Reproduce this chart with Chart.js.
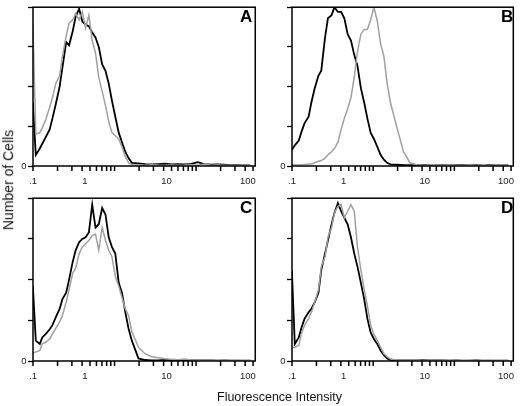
<!DOCTYPE html>
<html>
<head>
<meta charset="utf-8">
<script src="https://cdn.jsdelivr.net/npm/chart.js@4.4.1/dist/chart.umd.min.js"></script>
<style>
  body { margin: 0; background: #fff; width: 520px; height: 406px; position: relative; overflow: hidden; font-family: "Liberation Sans", Arial, sans-serif; }
  canvas { position: absolute; }
  .letter { position: absolute; font-weight: bold; font-size: 17px; line-height: 17px; color: #000; }
  .title { position: absolute; font-size: 12.5px; line-height: 14px; color: #111; white-space: nowrap; }
</style>
</head>
<body>
<canvas id="panelA" width="262" height="192" style="left:0;top:0"></canvas>
<canvas id="panelB" width="261" height="192" style="left:259px;top:0"></canvas>
<canvas id="panelC" width="262" height="196" style="left:0;top:191px"></canvas>
<canvas id="panelD" width="261" height="196" style="left:259px;top:191px"></canvas>

<div class="letter" style="left:240px;top:8px">A</div>
<div class="letter" style="left:501px;top:8px">B</div>
<div class="letter" style="left:240px;top:199px">C</div>
<div class="letter" style="left:501px;top:199px">D</div>

<div class="title" style="left:217px;top:390px">Fluorescence Intensity</div>
<div class="title" style="left:-42px;top:173px;transform:rotate(-90deg);font-size:14px">Number of Cells</div>

<script>
// Fluorescence intensity bins (log scale)
const bins = [0.23, 0.25, 0.28, 0.30, 0.33, 0.37, 0.40, 0.44, 0.49, 0.53,
              0.59, 0.64, 0.71, 0.77, 0.85, 0.93, 1.02, 1.12, 1.23, 1.35,
              1.48, 1.63, 1.79, 1.96, 2.15, 2.36, 2.6, 2.85, 3.13, 3.43,
              3.77, 4.54, 5.46, 6.58, 7.93, 9.55, 11.5, 13.8, 16.7, 20.1,
              24.2, 29.2, 35.1, 42.3, 50.9, 61.4, 73.9, 89, 107];

// Number of cells (% of full scale) per bin
const aBlack = [40, 7, 11, 14, 18, 23, 30, 39, 50, 62,
                78, 76, 85, 94, 99, 91, 89, 88, 84, 81,
                75, 64, 60, 52, 41, 31, 21, 15, 9, 5,
                2, 1.6, 1.2, 1, 1.2, 1.4, 1, 1.2, 1, 1.4,
                2.4, 1.2, 0.8, 1, 0.8, 0.6, 0.6, 0.4, 0.4];
const aGray = [90, 20, 21, 24, 29, 37, 43, 52, 57, 69,
               82, 90, 92, 96, 92, 97, 87, 95, 79, 71,
               56, 47, 38, 28, 21, 19, 17, 12, 6, 2,
               0.8, 0.6, 0.5, 0.8, 0.6, 0.5, 0.7, 0.5, 0.6, 0.8,
               0.5, 1.2, 0.5, 0.6, 0.4, 0.5, 0.3, 0.4, 0.3];

const bBlack = [10, 13, 16, 21, 27, 31, 40, 49, 57, 60,
                81, 93, 95, 100, 97, 97, 93, 83, 79, 70,
                63, 49, 40, 30, 21, 17, 12, 7, 4, 2,
                1, 0.8, 0.6, 0.6, 0.5, 0.7, 0.4, 0.6, 0.5, 0.4,
                0.6, 0.5, 0.4, 0.5, 0.3, 0.6, 0.4, 0.3, 0.3];
const bGray = [1, 0.8, 0.6, 0.8, 1, 1.2, 1.2, 2, 3, 3.4,
               5, 7, 9, 11, 15, 23, 30, 36, 43, 56,
               72, 83, 86, 86, 92, 100, 91, 77, 69, 52,
               40, 24, 9, 2, 0.8, 0.6, 0.5, 0.6, 0.4, 0.5,
               0.4, 0.3, 0.5, 0.3, 0.4, 0.3, 0.3, 0.3, 0.2];

const cBlack = [46, 12.5, 10.5, 14.5, 16.5, 19.5, 22, 27, 32, 38,
                42, 50, 61, 68, 73, 75, 76, 79, 96, 82,
                84, 94, 90, 76, 70, 66, 48, 42, 30, 20,
                12.5, 1.6, 0.6, 0.4, 0.4, 0.6, 0.5, 0.4, 0.3, 0.3,
                0.4, 0.3, 0.3, 0.2, 0.3, 0.2, 0.2, 0.2, 0.2];
const cGray = [5, 5.5, 6.5, 10.5, 11.5, 13.5, 16.5, 20, 24, 28,
               36, 44, 54, 57, 66, 70, 72, 74, 77, 78,
               68, 82, 74, 68, 64, 52, 46, 39, 32, 28,
               18, 8.5, 4.5, 2.6, 2, 1.4, 1, 0.8, 1.2, 0.6,
               0.5, 0.4, 0.5, 0.3, 0.4, 0.3, 0.3, 0.2, 0.3];

const dBlack = [56, 10.5, 14.5, 20, 26, 30, 32, 36, 42, 56,
                66, 74, 84, 91, 97, 92, 88, 84, 76, 66,
                58, 48, 38, 26, 17.5, 13.5, 10.5, 6.5, 3.6, 1.6,
                0.6, 0.4, 0.3, 0.4, 0.3, 0.5, 0.3, 0.3, 0.4, 0.2,
                0.3, 0.2, 0.2, 0.3, 0.2, 0.2, 0.2, 0.2, 0.2];
const dGray = [8.5, 8.5, 9.5, 16.5, 22, 26, 30, 36, 44, 58,
               64, 76, 82, 91, 95, 96, 88, 92, 96, 92,
               70, 56, 44, 34, 22, 16.5, 12.5, 8.5, 4.5, 2.6,
               1.2, 0.6, 0.5, 0.4, 0.5, 0.3, 0.4, 0.3, 0.3, 0.4,
               0.3, 0.2, 0.3, 0.2, 0.2, 0.3, 0.2, 0.2, 0.2];

// Axis range and tick labels
const X_MIN = 0.231;
const X_MAX = 123;
const xLabelValues = [X_MIN, 1, 10, 100];
const xLabelTexts = ['.1', '1', '10', '100'];
const yTickStep = 25;

// tick marks are log spaced from the axis start (labels sit between them)
const xTickValues = [];
for (let n = 0; n < 3; n++) {
    for (let k = 1; k <= 9; k++) {
        const v = X_MIN * k * Math.pow(10, n);
        if (v <= X_MAX) xTickValues.push(v);
    }
}

const FONT = '"Liberation Sans", Arial, sans-serif';

// box round each plot + the x tick marks
const framePlugin = {
    id: 'frame',
    afterDraw(chart) {
        const { ctx, chartArea: a } = chart;
        const xs = chart.scales.x;
        ctx.save();
        ctx.strokeStyle = '#000';
        ctx.lineWidth = 1.5;
        for (const v of xTickValues) {
            const px = xs.getPixelForValue(v);
            ctx.beginPath();
            ctx.moveTo(px, a.bottom);
            ctx.lineTo(px, a.bottom + 5);
            ctx.stroke();
        }
        ctx.strokeRect(a.left, a.top, a.right - a.left, a.bottom - a.top);
        ctx.restore();
    }
};

function makePanel(id, black, gray, padRight) {
    const ctx = document.getElementById(id).getContext('2d');
    new Chart(ctx, {
        type: 'line',
        data: {
            datasets: [
                {
                    data: bins.map((x, i) => ({ x: x, y: gray[i] })),
                    borderColor: '#a0a0a0',
                    borderWidth: 1.5,
                    pointRadius: 0,
                    tension: 0
                },
                {
                    data: bins.map((x, i) => ({ x: x, y: black[i] })),
                    borderColor: '#000',
                    borderWidth: 1.8,
                    pointRadius: 0,
                    tension: 0
                }
            ]
        },
        options: {
            responsive: false,
            animation: false,
            layout: { padding: { top: 2, right: padRight, left: 0, bottom: 0 } },
            plugins: { legend: { display: false }, tooltip: { enabled: false } },
            scales: {
                x: {
                    type: 'logarithmic',
                    min: X_MIN,
                    max: X_MAX,
                    afterBuildTicks: (scale) => {
                        scale.ticks = xLabelValues.map(v => ({ value: v }));
                    },
                    afterFit: (scale) => { scale.height = 26; },
                    border: { display: false },
                    grid: { display: false, drawOnChartArea: false, tickLength: 4 },
                    ticks: {
                        autoSkip: false,
                        maxRotation: 0,
                        padding: 6,
                        color: '#222',
                        font: { family: FONT, size: 9.5 },
                        callback: (value) => {
                            const i = xLabelValues.indexOf(value);
                            return i >= 0 ? xLabelTexts[i] : '';
                        }
                    }
                },
                y: {
                    min: 0,
                    max: 100,
                    afterFit: (scale) => { scale.width = 33; },
                    border: { display: false },
                    grid: { drawOnChartArea: false, tickLength: 5, tickWidth: 1.3, tickColor: '#000' },
                    ticks: {
                        stepSize: yTickStep,
                        padding: 1.5,
                        color: '#222',
                        font: { family: FONT, size: 9.5 },
                        callback: (value) => value === 0 ? '0' : ''
                    }
                }
            }
        },
        plugins: [framePlugin]
    });
}

makePanel('panelA', aBlack, aGray, 4);
makePanel('panelB', bBlack, bGray, 2);
makePanel('panelC', cBlack, cGray, 4);
makePanel('panelD', dBlack, dGray, 2);
</script>
</body>
</html>
